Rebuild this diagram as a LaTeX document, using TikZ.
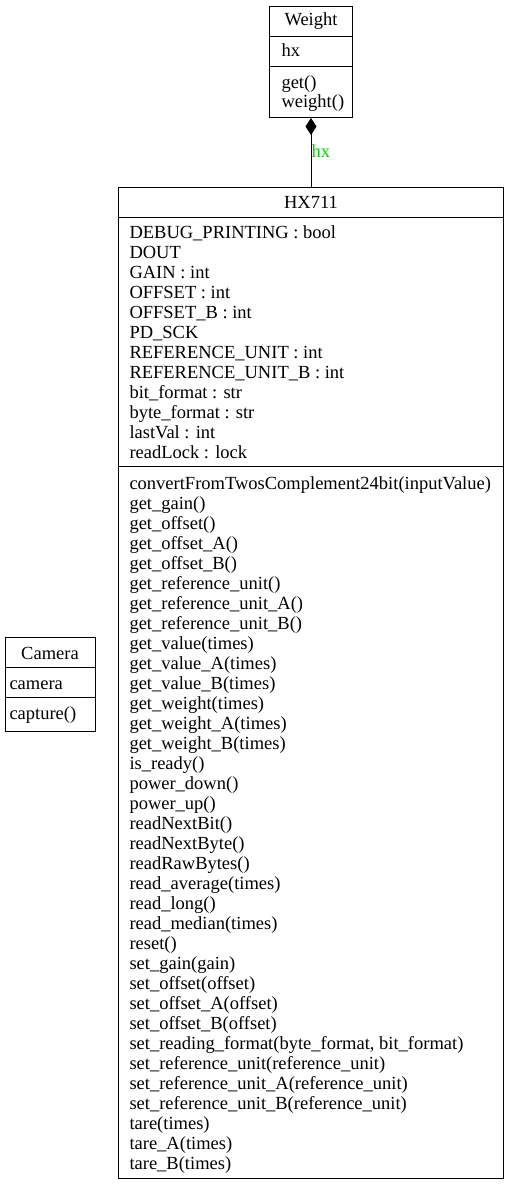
\documentclass[tikz,border=0pt]{standalone}
\usepackage{fontspec}
\setmainfont{Liberation Serif}
\usetikzlibrary{arrows.meta}
\definecolor{lblgreen}{RGB}{0,210,0}
\begin{document}
\begin{tikzpicture}[x=1pt,y=-1pt,line width=1pt,
  umltext/.style={font=\fontsize{18.5}{20}\selectfont,inner sep=0pt,anchor=base west},
  umltitle/.style={font=\fontsize{18.5}{20}\selectfont,inner sep=0pt,anchor=base},
  classbox/.style={draw,anchor=north west,inner sep=0pt}]
\useasboundingbox (0,0) rectangle (509,1185);
% Weight
\node[classbox,minimum width=83,minimum height=111] (weight) at (269,6) {};
\draw (weight.west |- 0,37) -- (weight.east |- 0,37);
\draw (weight.west |- 0,67) -- (weight.east |- 0,67);
\node[umltitle] (wt) at (311,26) {Weight};
\node[umltext] (wa1) at (281,57) {hx};
\node[umltext] (wm1) at (281,89) {get()};
\node[umltext] (wm2) at (281,108) {weight()};
% HX711
\node[classbox,minimum width=385,minimum height=991] (hx) at (118,187) {};
\draw (hx.west |- 0,217) -- (hx.east |- 0,217);
\draw (hx.west |- 0,466) -- (hx.east |- 0,466);
\node[umltitle] (ht) at (311,208) {HX711};
\foreach \t [count=\i from 0] in {{DEBUG\_PRINTING : bool},{DOUT},{GAIN : int},{OFFSET : int},{OFFSET\_B : int},{PD\_SCK},{REFERENCE\_UNIT : int},{REFERENCE\_UNIT\_B : int},{bit\_format : str},{byte\_format : str},{lastVal : int},{readLock : lock}}
  \node[umltext] (ha\i) at (129,238+20*\i) {\t};
\foreach \t [count=\i from 0] in {{convertFromTwosComplement24bit(inputValue)},{get\_gain()},{get\_offset()},{get\_offset\_A()},{get\_offset\_B()},{get\_reference\_unit()},{get\_reference\_unit\_A()},{get\_reference\_unit\_B()},{get\_value(times)},{get\_value\_A(times)},{get\_value\_B(times)},{get\_weight(times)},{get\_weight\_A(times)},{get\_weight\_B(times)},{is\_ready()},{power\_down()},{power\_up()},{readNextBit()},{readNextByte()},{readRawBytes()},{read\_average(times)},{read\_long()},{read\_median(times)},{reset()},{set\_gain(gain)},{set\_offset(offset)},{set\_offset\_A(offset)},{set\_offset\_B(offset)},{set\_reading\_format(byte\_format, bit\_format)},{set\_reference\_unit(reference\_unit)},{set\_reference\_unit\_A(reference\_unit)},{set\_reference\_unit\_B(reference\_unit)},{tare(times)},{tare\_A(times)},{tare\_B(times)}}
  \node[umltext] (hm\i) at (129,489+20*\i) {\t};
% Camera
\node[classbox,minimum width=90,minimum height=94] (cam) at (5,637) {};
\draw (cam.west |- 0,667) -- (cam.east |- 0,667);
\draw (cam.west |- 0,697) -- (cam.east |- 0,697);
\node[umltitle] (ct) at (50,659) {Camera};
\node[umltext] (ca1) at (9,689) {camera};
\node[umltext] (cm1) at (9,719) {capture()};
% composition
\draw[-{Diamond[length=17pt,width=11pt]}] (hx.north -| weight.south) -- (weight.south);
\node[font=\fontsize{18.5}{20}\selectfont,text=lblgreen,inner sep=0pt,anchor=base west] (lbl) at (311,158) {hx};
\end{tikzpicture}
\end{document}
